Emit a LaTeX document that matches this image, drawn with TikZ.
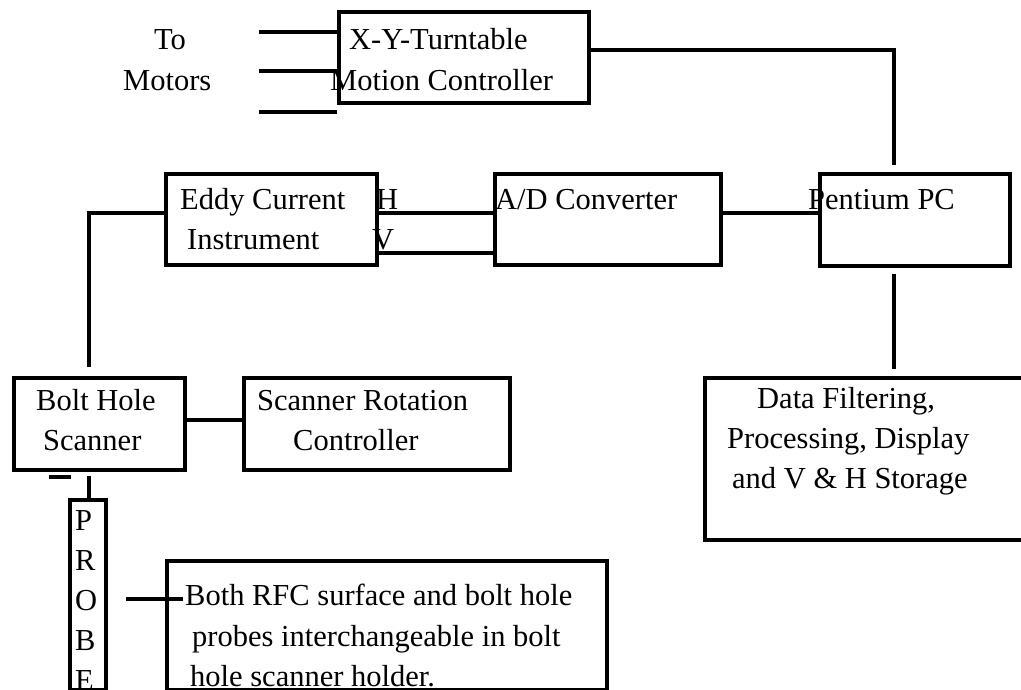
\documentclass[tikz,border=0pt]{standalone}
\usepackage{fontspec}
\setmainfont{Liberation Serif}
\begin{document}
\begin{tikzpicture}[x=1pt,y=-1pt,
  box/.style={draw=black, line width=4pt, rectangle, inner sep=0pt, anchor=north west},
  wire/.style={draw=black, line width=4pt},
  txt/.style={anchor=base west, inner sep=0pt, font=\fontsize{30.5}{40}\selectfont}]
\useasboundingbox (0,0) rectangle (1021,690);
\fill[white] (0,0) rectangle (1021,690);
% boxes
\node[box, minimum width=250pt, minimum height=91pt] (mc) at (337,10) {};
\node[box, minimum width=211pt, minimum height=91pt] (ec) at (164,172) {};
\node[box, minimum width=226pt, minimum height=91pt] (ad) at (493,172) {};
\node[box, minimum width=190pt, minimum height=92pt] (pc) at (818,172) {};
\node[box, minimum width=330pt, minimum height=162pt] (df) at (703,376) {};
\node[box, minimum width=171pt, minimum height=92pt] (bh) at (12,376) {};
\node[box, minimum width=266pt, minimum height=92pt] (sr) at (242,376) {};
\node[box, minimum width=36pt, minimum height=190pt] (pr) at (68,498) {};
\node[box, minimum width=440pt, minimum height=129pt] (nb) at (165,559) {};
% texts
\node[txt] (t1) at (154,50) {To};
\node[txt] (t2) at (123,91) {Motors};
\node[txt] (t3) at (349,50) {X-Y-Turntable};
\node[txt] (t4) at (330,91) {Motion Controller};
\node[txt] (t5) at (180,210) {Eddy Current};
\node[txt] (t6) at (187,250) {Instrument};
\node[txt] (tH) at (376,210) {H};
\node[txt] (tV) at (372,250) {V};
\node[txt] (t7) at (495,210) {A/D Converter};
\node[txt] (t8) at (808,210) {Pentium PC};
\node[txt] (t9) at (757,408) {Data Filtering,};
\node[txt] (t10) at (727,448) {Processing, Display};
\node[txt] (t11) at (732,488) {and V \& H Storage};
\node[txt] (t12) at (36,410) {Bolt Hole};
\node[txt] (t13) at (43,450) {Scanner};
\node[txt] (t14) at (257,410) {Scanner Rotation};
\node[txt] (t15) at (293,450) {Controller};
\node[txt] (p1) at (75,530) {P};
\node[txt] (p2) at (75,570) {R};
\node[txt] (p3) at (75,610) {O};
\node[txt] (p4) at (75,650) {B};
\node[txt] (p5) at (75,690) {E};
\node[txt] (t16) at (185,605) {Both RFC surface and bolt hole};
\node[txt] (t17) at (192,646) {probes interchangeable in bolt};
\node[txt] (t18) at (190,686) {hole scanner holder.};
% redraw bottom edge over text
\draw[wire] (nb.south west) -- (nb.south east);
% free ends
\coordinate (m1) at (259,32);
\coordinate (m2) at (259,71);
\coordinate (m3) at (259,112);
\coordinate (m3e) at (337,112);
\coordinate (pcTop) at (894,165);
\coordinate (pcBot1) at (894,274);
\coordinate (dfTop) at (894,369);
\coordinate (ecL) at (89,213);
\coordinate (bhTop) at (89,367);
\coordinate (d1) at (49,477);
\coordinate (d2) at (71,477);
\coordinate (bhBot) at (89,476);
\coordinate (prR) at (126,599);
\coordinate (nbIn) at (183,599);
% connectors
\draw[wire] (m1) -- (mc.west |- m1);
\draw[wire] (m2) -- (mc.west |- m2);
\draw[wire] (m3) -- (m3e);
\draw[wire] (mc.east |- 0,50) -- (pcTop |- 0,50) -- (pcTop);
\draw[wire] (ec.west |- ecL) -- (ecL) -- (bhTop);
\draw[wire] (ec.east |- 0,213) -- (ad.west |- 0,213);
\draw[wire] (ec.east |- 0,253) -- (ad.west |- 0,253);
\draw[wire] (ad.east |- 0,213) -- (pc.west |- 0,213);
\draw[wire] (pcBot1) -- (dfTop);
\draw[wire] (bh.east |- 0,420) -- (sr.west |- 0,420);
\draw[wire] (d1) -- (d2);
\draw[wire] (bhBot) -- (pr.north -| bhBot);
\draw[wire] (prR) -- (nbIn);
\end{tikzpicture}
\end{document}
